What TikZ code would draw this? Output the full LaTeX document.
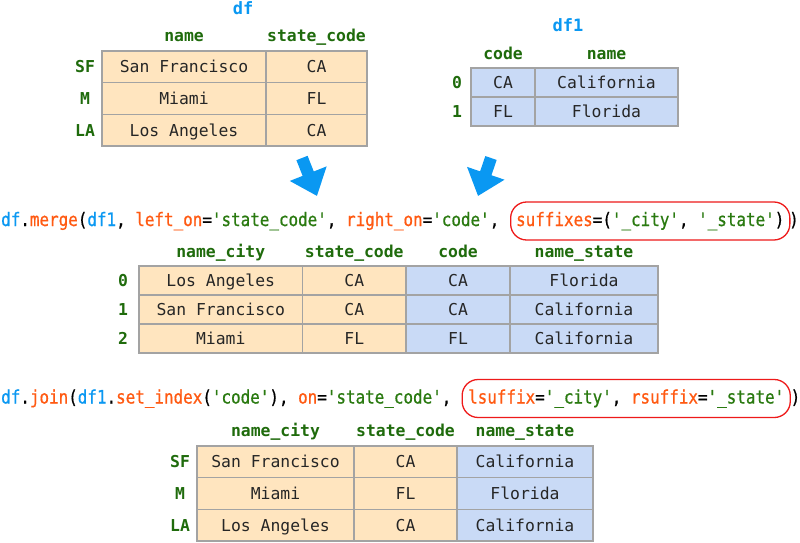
\documentclass[tikz,border=0pt]{standalone}
\usepackage{fontspec}
\usepackage{tikz}
\usetikzlibrary{arrows.meta}
\setmonofont{DejaVu Sans Mono}
\newfontfamily\codefont[FakeStretch=0.86,FakeBold=0.7,Ligatures=TeXOff]{DejaVu Sans Mono}
\definecolor{dfblue}{HTML}{0A98F2}
\definecolor{fnorange}{HTML}{FF5A12}
\definecolor{strgreen}{HTML}{2A7A10}
\definecolor{hdgreen}{HTML}{1F6B0C}
\definecolor{gridgray}{HTML}{A3A3A3}
\definecolor{leftcell}{HTML}{FFE5BF}
\definecolor{rightcell}{HTML}{C9DAF6}
\definecolor{boxred}{HTML}{EE1A1A}
\newcommand{\dfv}[1]{\textcolor{dfblue}{#1}}
\newcommand{\fn}[1]{\textcolor{fnorange}{#1}}
\newcommand{\str}[1]{\textcolor{strgreen}{#1}}

\begin{document}
\begin{tikzpicture}[x=1pt,y=-1pt]
\tikzset{cellL/.style = {draw=gridgray, line width=1.3pt, fill=leftcell, inner sep=0pt, text=black!85,
                         text height=12pt, text depth=0pt,
                         font=\ttfamily\fontsize{16.4}{18}\selectfont},
         cellR/.style = {cellL, fill=rightcell},
         hd/.style = {inner sep=0pt, text height=12pt, text depth=3pt, text=hdgreen,
                      font=\ttfamily\bfseries\fontsize{16.4}{18}\selectfont},
         idx/.style = {hd, text depth=0pt},
         title/.style = {hd, text=dfblue, font=\ttfamily\bfseries\fontsize{17}{19}\selectfont},
         code/.style = {anchor=base west, inner sep=0pt, text height=14pt, text depth=4pt,
                        font=\codefont\fontsize{18.5}{20}\selectfont},
         sfx/.style = {code, draw=boxred, line width=1.3pt, rounded corners=16pt, inner xsep=5.5pt, minimum height=38pt},
         bigarrow/.style = {draw=dfblue, line width=12pt, -{Triangle[length=24pt,width=38pt]}}}

\useasboundingbox[fill=white] (0,0) rectangle (800,543);

% df
\node[title] (df) at (243,10) {df};
\node[hd] (dfHn) at (184,37) {name};
\node[hd] (dfHs) at (316.5,37) {state\_code};
\node[idx] (dfI1) at (85,66.8) {SF};
\node[idx] (dfI2) at (85,98.5) {M};
\node[idx] (dfI3) at (85,130.2) {LA};
\node[cellL, minimum width=164pt, minimum height=31.7pt] (dfA1) at (184,66.8) {San Francisco};
\node[cellL, minimum width=101pt, minimum height=31.7pt] (dfB1) at (316.5,66.8) {CA};
\node[cellL, minimum width=164pt, minimum height=31.7pt] (dfA2) at (184,98.5) {Miami};
\node[cellL, minimum width=101pt, minimum height=31.7pt] (dfB2) at (316.5,98.5) {FL};
\node[cellL, minimum width=164pt, minimum height=31.7pt] (dfA3) at (184,130.2) {Los Angeles};
\node[cellL, minimum width=101pt, minimum height=31.7pt] (dfB3) at (316.5,130.2) {CA};

% df1
\node[title] (df1) at (568,27) {df1};
\node[hd] (dfoHc) at (503,55) {code};
\node[hd] (dfoHn) at (606.5,55) {name};
\node[idx] (dfoI1) at (457,82.5) {0};
\node[idx] (dfoI2) at (457,111.5) {1};
\node[cellR, minimum width=64pt, minimum height=29pt] (dfoA1) at (503,82.5) {CA};
\node[cellR, minimum width=143pt, minimum height=29pt] (dfoB1) at (606.5,82.5) {California};
\node[cellR, minimum width=64pt, minimum height=29pt] (dfoA2) at (503,111.5) {FL};
\node[cellR, minimum width=143pt, minimum height=29pt] (dfoB2) at (606.5,111.5) {Florida};

% arrows
\coordinate (arrLs) at (302,158);
\coordinate (arrLe) at (317,196);
\coordinate (arrRs) at (491,158);
\coordinate (arrRe) at (478,196);
\draw[bigarrow] (arrLs) -- (arrLe);
\draw[bigarrow] (arrRs) -- (arrRe);

% merge
\node[code] (mergeA) at (1,226) {\dfv{df}.\fn{merge}(\dfv{df1}, \fn{left\_on}=\str{'state\_code'}, \fn{right\_on}=\str{'code'},};
\node[sfx] (mergeB) at (510,226) {\fn{suffixes}=(\str{'\_city'}, \str{'\_state'})};
\node[code] (mergeC) at (789,226) {)};

\node[hd] (mHa) at (220.75,253) {name\_city};
\node[hd] (mHb) at (354.25,253) {state\_code};
\node[hd] (mHc) at (458,253) {code};
\node[hd] (mHd) at (584,253) {name\_state};
\node[idx] (mI1) at (123,280.5) {0};
\node[idx] (mI2) at (123,309.5) {1};
\node[idx] (mI3) at (123,338.5) {2};
\node[cellL, minimum width=163.5pt, minimum height=29pt] (mA1) at (220.75,280.5) {Los Angeles};
\node[cellL, minimum width=103.5pt, minimum height=29pt] (mB1) at (354.25,280.5) {CA};
\node[cellR, minimum width=104pt, minimum height=29pt] (mC1) at (458,280.5) {CA};
\node[cellR, minimum width=148pt, minimum height=29pt] (mD1) at (584,280.5) {Florida};
\node[cellL, minimum width=163.5pt, minimum height=29pt] (mA2) at (220.75,309.5) {San Francisco};
\node[cellL, minimum width=103.5pt, minimum height=29pt] (mB2) at (354.25,309.5) {CA};
\node[cellR, minimum width=104pt, minimum height=29pt] (mC2) at (458,309.5) {CA};
\node[cellR, minimum width=148pt, minimum height=29pt] (mD2) at (584,309.5) {California};
\node[cellL, minimum width=163.5pt, minimum height=29pt] (mA3) at (220.75,338.5) {Miami};
\node[cellL, minimum width=103.5pt, minimum height=29pt] (mB3) at (354.25,338.5) {FL};
\node[cellR, minimum width=104pt, minimum height=29pt] (mC3) at (458,338.5) {FL};
\node[cellR, minimum width=148pt, minimum height=29pt] (mD3) at (584,338.5) {California};

% join
\node[code] (joinA) at (1,403.5) {\dfv{df}.\fn{join}(\dfv{df1}.\fn{set\_index}(\str{'code'}), \fn{on}=\str{'state\_code'},};
\node[sfx, inner xsep=6pt] (joinB) at (461.5,403.5) {\fn{lsuffix}=\str{'\_city'}, \fn{rsuffix}=\str{'\_state'}};
\node[code] (joinC) at (790.5,403.5) {)};

\node[hd] (jHa) at (275.5,432) {name\_city};
\node[hd] (jHb) at (405.5,432) {state\_code};
\node[hd] (jHc) at (525,432) {name\_state};
\node[idx] (jI1) at (180,461.8) {SF};
\node[idx] (jI2) at (180,493.5) {M};
\node[idx] (jI3) at (180,525.2) {LA};
\node[cellL, minimum width=157pt, minimum height=31.7pt] (jA1) at (275.5,461.8) {San Francisco};
\node[cellL, minimum width=103pt, minimum height=31.7pt] (jB1) at (405.5,461.8) {CA};
\node[cellR, minimum width=136pt, minimum height=31.7pt] (jC1) at (525,461.8) {California};
\node[cellL, minimum width=157pt, minimum height=31.7pt] (jA2) at (275.5,493.5) {Miami};
\node[cellL, minimum width=103pt, minimum height=31.7pt] (jB2) at (405.5,493.5) {FL};
\node[cellR, minimum width=136pt, minimum height=31.7pt] (jC2) at (525,493.5) {Florida};
\node[cellL, minimum width=157pt, minimum height=31.7pt] (jA3) at (275.5,525.2) {Los Angeles};
\node[cellL, minimum width=103pt, minimum height=31.7pt] (jB3) at (405.5,525.2) {CA};
\node[cellR, minimum width=136pt, minimum height=31.7pt] (jC3) at (525,525.2) {California};

\end{tikzpicture}
\end{document}
